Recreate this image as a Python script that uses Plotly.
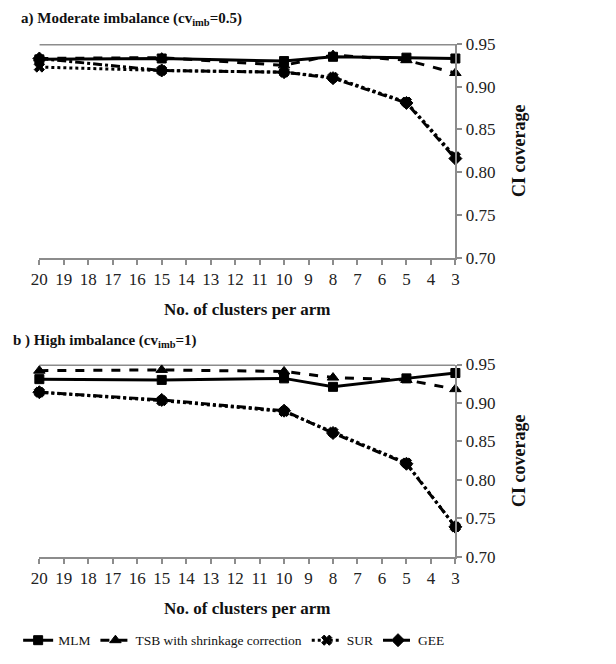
import plotly.graph_objects as go

clusters = [20, 15, 10, 8, 5, 3]
x_ticks = list(range(20, 2, -1))
y_ticks = [0.70, 0.75, 0.80, 0.85, 0.90, 0.95]
methods = ["MLM", "TSB with shrinkage correction", "SUR", "GEE"]

# a) Moderate imbalance (cv_imb = 0.5)
mod_mlm = [0.932, 0.933, 0.930, 0.935, 0.934, 0.933]
mod_tsb = [0.933, 0.934, 0.925, 0.937, 0.931, 0.916]
mod_sur = [0.923, 0.919, 0.917, 0.911, 0.882, 0.818]
mod_gee = [0.933, 0.919, 0.917, 0.910, 0.881, 0.816]

# b) High imbalance (cv_imb = 1)
high_mlm = [0.931, 0.930, 0.932, 0.921, 0.932, 0.939]
high_tsb = [0.942, 0.943, 0.941, 0.933, 0.930, 0.918]
high_sur = [0.914, 0.903, 0.889, 0.862, 0.822, 0.739]
high_gee = [0.914, 0.904, 0.890, 0.861, 0.821, 0.739]

nominal = 0.95

SERIF = "Liberation Serif"
styles = {
    "MLM": dict(dash="solid", symbol="square", size=9),
    "TSB with shrinkage correction": dict(dash="dash", symbol="triangle-up", size=10),
    "SUR": dict(dash="dot", symbol="x", size=9),
    "GEE": dict(dash="dashdot", symbol="diamond", size=10),
}

fig = go.Figure()
panels = [
    ("x", "y", [mod_mlm, mod_tsb, mod_sur, mod_gee], True),
    ("x2", "y2", [high_mlm, high_tsb, high_sur, high_gee], False),
]
for xa, ya, series, show in panels:
    for name, vals in zip(methods, series):
        st = styles[name]
        fig.add_trace(go.Scatter(
            x=clusters, y=vals, xaxis=xa, yaxis=ya,
            name=name, showlegend=show, mode="lines+markers",
            line=dict(color="black", width=3, dash=st["dash"]),
            marker=dict(color="black", symbol=st["symbol"], size=st["size"],
                        line=dict(color="black", width=1)),
            cliponaxis=False,
        ))
    fig.add_shape(type="line", xref=xa, yref=ya, x0=clusters[0], x1=clusters[-1],
                  y0=nominal, y1=nominal, line=dict(color="#8c8c8c", width=3),
                  layer="below")

xcommon = dict(range=[20, 3], tickvals=x_ticks, ticktext=[str(v) for v in x_ticks],
               showline=True, linecolor="#8c8c8c", linewidth=2, ticks="outside",
               tickcolor="#8c8c8c", ticklen=5, tickwidth=1.5, showgrid=False,
               zeroline=False, tickfont=dict(family=SERIF, size=17, color="#222"),
               domain=[31 / 616, 456 / 616])
ycommon = dict(range=[0.70, 0.95], tickvals=y_ticks, ticktext=[f"{v:.2f}" for v in y_ticks],
               side="right", showline=True, linecolor="#8c8c8c", linewidth=2,
               ticks="outside", tickcolor="#8c8c8c", ticklen=5, tickwidth=1.5,
               showgrid=False, zeroline=False,
               tickfont=dict(family=SERIF, size=17, color="#222"),
               title=dict(text="<b>CI coverage</b>", font=dict(family=SERIF, size=18, color="#111"),
                          standoff=18))

fig.update_layout(
    width=616, height=664,
    margin=dict(l=0, r=0, t=0, b=0),
    paper_bgcolor="white", plot_bgcolor="white",
    xaxis=dict(**xcommon, anchor="y"),
    yaxis=dict(**ycommon, anchor="x", domain=[1 - 256 / 664, 1 - 36 / 664]),
    xaxis2=dict(**xcommon, anchor="y2"),
    yaxis2=dict(**ycommon, anchor="x2", domain=[1 - 564 / 664, 1 - 366 / 664]),
    showlegend=True,
    legend=dict(orientation="h", x=230 / 616, xanchor="center", y=1 - 650 / 664, yanchor="middle",
                font=dict(family=SERIF, size=13.5, color="#111"), itemwidth=30,
                tracegroupgap=0, bgcolor="rgba(0,0,0,0)"),
    annotations=[
        dict(text="<b>a) Moderate imbalance (cv<sub>imb</sub>=0.5)</b>", xref="paper", yref="paper",
             x=10 / 616, y=1 - 10 / 664, xanchor="left", yanchor="middle", showarrow=False,
             font=dict(family=SERIF, size=15, color="#111")),
        dict(text="<b>b ) High imbalance (cv<sub>imb</sub>=1)</b>", xref="paper", yref="paper",
             x=2 / 616, y=1 - 342 / 664, xanchor="left", yanchor="middle", showarrow=False,
             font=dict(family=SERIF, size=15, color="#111")),
        dict(text="<b>No. of clusters per arm</b>", xref="paper", yref="paper",
             x=243 / 616, y=1 - 309 / 664, xanchor="center", yanchor="middle", showarrow=False,
             font=dict(family=SERIF, size=17, color="#111")),
        dict(text="<b>No. of clusters per arm</b>", xref="paper", yref="paper",
             x=243 / 616, y=1 - 617 / 664, xanchor="center", yanchor="middle", showarrow=False,
             font=dict(family=SERIF, size=17, color="#111")),
    ],
)

fig.write_html("out.html", config={"displayModeBar": False},
               post_script="document.body.style.margin='0';")
